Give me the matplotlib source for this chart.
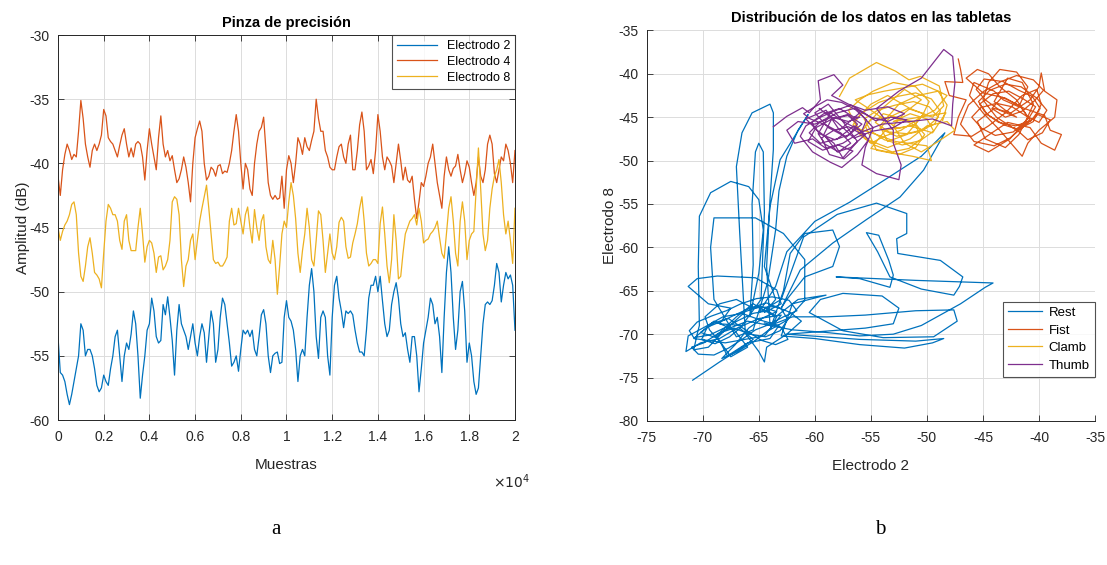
"""Two panels: EMG amplitude per electrode (a) and electrode 2 vs 8 trajectories per gesture (b)."""
import matplotlib
matplotlib.use("Agg")
import matplotlib.pyplot as plt  # noqa: E402
import numpy as np  # noqa: E402

# ---- panel a: amplitude (dB), one value every 100 samples, 0..20000 ----
step = 100
elec4 = [
    -41, -42.5, -40.5, -39.3, -38.5, -39, -39.7, -39.3, -39.5, -37.5,
    -35.1, -36.5, -38.5, -39.5, -40.3, -39, -38.5, -39, -38.5, -37.8,
    -35.8, -36.3, -38, -38.3, -38.5, -39, -39.5, -38.6, -37.8, -37.3,
    -38.5, -39.5, -38.8, -39.5, -38.5, -38.3, -38.5, -39.5, -41.3, -39,
    -37.3, -38.5, -39.5, -40.5, -38, -36.3, -38.5, -39.5, -39, -39.8,
    -39.4, -40.5, -41.5, -41.2, -40.5, -39.5, -40.3, -41.5, -43, -40,
    -38, -37.3, -36.7, -37.5, -40, -41.3, -41, -40.3, -40.5, -41,
    -40.2, -40.1, -40.8, -40.6, -40.7, -40, -39, -37.5, -36.2, -37.5,
    -40, -42, -40, -40.5, -42, -42.5, -40, -38.5, -37.5, -37.2,
    -36.4, -39, -41.5, -42.5, -42.8, -42.5, -42.8, -42.7, -41, -43.5,
    -40.5, -39.4, -40, -41.5, -40, -38, -38.5, -39.3, -38, -38.7,
    -39, -38.2, -37.5, -35, -36.5, -37.5, -37.5, -39, -39.5, -40.3,
    -40.5, -40.5, -39.5, -38.7, -38.5, -39.5, -40, -38.5, -37.8, -40.5,
    -40.5, -39, -37, -36, -37.5, -40.5, -40.2, -39.7, -40.8, -39,
    -36.2, -37.5, -39.5, -40.5, -39.5, -39.8, -40.2, -41.5, -40, -38.5,
    -39.8, -41.3, -40.3, -41.3, -41.5, -41, -42.8, -44.3, -43, -41.5,
    -41.8, -41, -40, -39.5, -38.5, -40, -41.5, -42.5, -43.5, -41,
    -39.5, -40.5, -41, -40.4, -40.2, -39.3, -40.5, -41.5, -40.8, -39.8,
    -40.3, -41.5, -42.5, -41.5, -39.5, -41, -41.5, -40.5, -38.5, -37.8,
    -38.5, -40.8, -41.5, -40.5, -39.5, -39.8, -38.5, -39, -40, -41.5,
    -39,
]
elec8 = [
    -45, -46, -45.3, -44.8, -44.5, -44, -43.2, -43, -44, -47,
    -48.8, -49.2, -48, -46.5, -45.8, -47, -48.5, -48.7, -49, -49.7,
    -47, -44.5, -43.2, -43.5, -44, -44, -44.5, -46, -46.7, -44.5,
    -44, -46, -46.8, -46.8, -46.8, -45, -43.5, -45.5, -47.7, -46.5,
    -46, -46.2, -47, -48.5, -47.3, -47.2, -48.3, -48, -47.5, -46,
    -43, -42.6, -42.8, -44, -47.5, -49.6, -48, -47.5, -46, -45.5,
    -47.5, -46, -44.5, -43.5, -42.6, -41.7, -43.5, -45.5, -47.5, -47.8,
    -47.7, -48, -48, -47.7, -47.3, -44.5, -43.5, -44.8, -44.7, -43.5,
    -44.5, -45.5, -44, -43.4, -45, -46.2, -43.6, -45, -46, -44.5,
    -44, -46.5, -47.5, -47.8, -46, -47.5, -50.2, -48, -45.5, -44.5,
    -45, -43, -41.5, -42.5, -44.3, -47, -48.5, -46.8, -45.5, -43.5,
    -45, -47.5, -48, -46, -43.7, -44, -46, -48.5, -47, -45.5,
    -47, -47.5, -46.5, -44.6, -44.2, -44.5, -46.5, -47.4, -47.3, -46.2,
    -45.5, -44.7, -43.5, -42.6, -44.5, -47, -48, -47.8, -47.5, -47.5,
    -47.8, -44.7, -43.4, -45.5, -48, -49.3, -47.5, -44, -46, -49,
    -48.8, -47, -45.5, -45, -44.5, -44.3, -44, -44.8, -43.5, -44.5,
    -46.2, -46, -45.9, -45.5, -45.3, -45, -44.5, -45.8, -47, -47.4,
    -45.5, -43.5, -42.6, -44.5, -47, -48, -44.5, -43, -44.5, -47.5,
    -46, -45.5, -45.3, -42, -38.8, -42, -45.5, -46.8, -46, -43.5,
    -42, -41, -40.5, -39.7, -41.5, -44, -45.5, -44.5, -46, -47.8,
    -43.5,
]
elec2 = [
    -53.5, -56.3, -56.5, -57, -58, -58.8, -58, -57, -56, -55,
    -52.5, -53, -55, -54.5, -54.5, -55, -56, -57.3, -57.8, -57.5,
    -56.5, -57, -57.3, -56, -55, -53.5, -53, -55, -57, -55,
    -54, -54.5, -53.3, -51.5, -52.5, -55, -58.3, -56.5, -55, -53,
    -52.5, -50.5, -51.5, -53.5, -54, -53.8, -51, -51.8, -50.4, -52,
    -53.8, -56.5, -53, -51, -52.5, -53, -53.5, -54.5, -53.5, -52.5,
    -54, -55, -53.5, -52.5, -53.2, -55.5, -53.5, -51.5, -52.5, -55.5,
    -54.5, -52, -50.5, -51, -52.5, -54, -55.8, -55.5, -55, -56.2,
    -54.5, -53, -53.3, -53, -53.5, -53, -54.5, -55, -53.5, -51.8,
    -51.4, -52.5, -55, -56.3, -55, -54.8, -54.7, -55.6, -55.5, -52,
    -50.7, -52, -52.3, -53, -54.5, -57, -55, -54.5, -55, -52,
    -49.5, -48.2, -50, -53.5, -55.2, -52, -51.5, -52, -55, -56.5,
    -52, -49.5, -48.8, -50.5, -51.5, -52.8, -51.5, -51.7, -51.5, -51.8,
    -53, -54, -54.7, -54.7, -55, -53, -50.5, -49.5, -49.5, -48.8,
    -50, -48.8, -50.7, -52.5, -53.5, -53, -51, -50, -49.3, -50.5,
    -52.5, -53.5, -53.2, -54.5, -55.5, -53.5, -53.5, -55, -57.8, -56,
    -54, -53, -52, -50.5, -51, -52.5, -52, -53.5, -56.3, -52,
    -48.5, -46.5, -48.5, -52, -54.5, -53, -50, -49.2, -51.5, -55.5,
    -54, -55, -57, -58, -57.5, -55, -52.5, -51, -50.8, -51,
    -50.7, -49.5, -47.8, -48.5, -50.8, -49.5, -48.5, -49, -48.7, -49.5,
    -53,
]

# ---- panel b: electrode 2 (x) vs electrode 8 (y), dB ----
rest_x = [
    -70.9, -68.5, -66.8, -65.5, -66.8, -68.5, -70.2, -71.5, -71.3, -70.0, -68.2, -66.5, -64.8, -63.2,
    -64.0, -66.0, -67.8, -68.4, -69.4, -69.8, -68.5, -67.0, -65.5, -63.5, -62.2, -61.2, -62.5, -64.3,
    -64.5, -65.0,
    -66.2, -66.5, -66.7, -67.0, -66.5, -65.6, -64.0, -63.7, -63.7, -64.0, -64.3, -64.0,
    -66.0, -68.0, -69.5, -70.8, -70.5,
    -70.3, -70.4, -70.3, -69.3, -67.5, -65.9, -65.0, -64.6, -65.0, -65.8,
    -65.5, -65.6, -65.3, -65.0, -64.6, -64.5, -64.8,
    -66.5, -68.5, -67.5,
    -69.5, -71.3, -70.5, -68.7, -65.3, -63.4, -63.0, -64.5,
    -63.5, -64.5, -64.0, -63.1, -60.6,
    -61.5, -62.5, -63.2, -63.5, -64.2, -65.5,
    -67.0, -69.0, -69.3, -69.0, -65.3, -62.8, -60.9, -60.9, -62.5, -64.0,
    -62.8, -62.2, -60.9, -58.4, -57.8, -58.4, -60.9, -62.5,
    -63.0, -61.3, -58.4, -55.4, -52.4, -50.3, -48.4,
    -50.5, -53.5, -56.9, -60.0, -62.5, -63.5, -65.0,
    -63.0, -61.0, -58.0, -54.5, -51.8, -51.8, -52.7, -52.6, -48.8, -46.8, -47.1, -47.6, -50.5, -53.3,
    -54.4, -55.4, -54.3, -53.4, -53.0, -53.3,
    -56.0, -58.1, -51.0, -44.1, -44.8, -47.0, -50.5, -53.0, -56.0, -59.0, -62.0, -64.0,
    -62.0, -58.9, -55.5, -51.0, -47.6, -47.3, -49.4, -53.9, -57.5, -60.5, -59.5, -57.5, -54.0, -52.5,
    -53.0, -55.5,
    -62.5, -56.0, -51.0, -48.5, -49.5, -52.0, -56.0, -60.0, -63.0,
    -62.0, -59.0, -61.5,
    -63.5, -65.5, -67.0, -68.8, -67.5, -66.0, -67.2, -69.0, -70.8, -68.0, -64.5, -63.0, -65.0,
]
rest_y = [
    -75.3, -73.2, -71.8, -70.6, -69.2, -70.5, -71.0, -72.0, -70.2, -69.3, -68.0, -67.6, -68.4, -69.0,
    -70.5, -71.0, -72.5, -71.0, -69.5, -68.0, -66.5, -66.0, -67.0, -66.8, -67.5, -68.5, -70.0, -71.5,
    -73.2, -72.0,
    -69.9, -63.0, -58.4, -50.7, -46.8, -44.5, -43.5, -44.5, -48.7, -54.5, -62.2, -69.0,
    -68.5, -69.5, -71.5, -71.8, -70.0,
    -69.0, -62.2, -56.4, -53.7, -52.4, -53.0, -54.5, -58.0, -63.0, -68.0,
    -62.0, -55.0, -49.0, -48.0, -49.0, -56.0, -66.0,
    -69.0, -68.8, -67.0,
    -66.5, -64.5, -63.6, -63.3, -63.5, -64.9, -66.5, -67.5,
    -66.0, -62.2, -55.3, -49.9, -44.7,
    -46.5, -49.5, -53.5, -58.0, -64.0, -69.5,
    -70.3, -66.0, -60.0, -56.6, -56.6, -58.4, -61.4, -66.1, -68.4, -69.5,
    -65.0, -60.7, -58.4, -58.0, -59.9, -62.2, -63.4, -66.0,
    -67.0, -62.6, -59.5, -56.8, -54.2, -51.1, -46.8,
    -49.5, -52.0, -54.8, -57.0, -60.5, -64.5, -67.5,
    -66.0, -58.8, -56.2, -54.9, -56.1, -58.4, -59.0, -60.7, -61.5, -63.4, -64.5, -65.5, -64.8, -63.4,
    -60.5, -58.3, -58.6, -61.5, -63.2, -64.6,
    -63.6, -63.4, -63.8, -64.1, -64.6, -66.5, -69.0, -70.0, -70.2, -69.8, -69.5, -69.0,
    -68.0, -68.0, -67.8, -67.3, -67.2, -68.5, -70.3, -70.4, -69.6, -67.5, -66.0, -65.3, -65.6, -67.0,
    -68.8, -69.3,
    -70.0, -70.6, -70.8, -70.5, -71.0, -71.6, -71.2, -70.5, -70.2,
    -66.5, -65.5, -66.0,
    -68.0, -66.5, -68.0, -70.2, -72.6, -71.5, -69.5, -68.5, -70.5, -71.0, -70.2, -67.8, -68.2,
]
# extra passes through the dense resting core, (x, y)
rest_core = [
    (-65.0, -68.2), (-66.4, -69.0), (-67.6, -70.3), (-68.9, -71.1), (-70.1, -70.6), (-69.6, -69.2),
    (-68.3, -68.5), (-67.0, -67.7), (-65.6, -66.9), (-64.3, -66.4), (-63.0, -67.1), (-62.4, -68.3),
    (-63.1, -69.6), (-64.4, -70.3), (-65.8, -70.0), (-67.2, -69.3), (-68.6, -69.9), (-69.9, -71.0),
    (-71.0, -71.5), (-70.4, -72.3), (-69.0, -72.4), (-67.7, -71.6), (-66.5, -70.6), (-65.3, -69.5),
    (-64.1, -68.9), (-62.8, -68.0), (-61.6, -67.3), (-62.3, -66.1), (-63.8, -65.7), (-65.2, -65.9),
    (-66.6, -66.5), (-67.9, -67.3), (-69.2, -67.9), (-70.5, -68.6), (-71.2, -69.6), (-70.8, -70.4),
    (-69.4, -70.1), (-68.1, -69.3), (-66.8, -68.4), (-65.5, -67.6), (-64.2, -67.3), (-63.4, -68.0),
    (-64.0, -69.4), (-65.4, -70.8), (-66.9, -72.0), (-68.3, -72.8), (-67.1, -71.2), (-65.9, -69.3),
    (-64.6, -68.1), (-63.4, -67.4), (-64.9, -66.8), (-66.2, -67.4), (-67.4, -68.8), (-68.8, -70.4),
    (-70.2, -69.8), (-69.0, -68.7), (-67.7, -68.2), (-66.2, -69.5), (-64.8, -70.7), (-63.5, -71.2),
    (-62.4, -70.6), (-63.0, -69.2), (-64.5, -68.7),
]
fist_x = [
    -47.2, -47.0, -46.8, -48.4, -48.0, -46.5, -47.2, -47.6, -46.0, -44.5, -43.0, -41.5, -40.2, -39.8,
    -40.5, -42.0, -43.8, -45.0, -44.5, -43.5, -42.0, -41.0, -41.8, -43.2, -44.0, -45.8, -46.2, -45.0,
    -43.5, -42.5, -41.5, -41.0, -40.0, -38.6, -38.4, -39.5, -39.8, -40.0, -40.8, -42.5, -44.0, -45.5,
    -44.8, -43.0, -41.8, -41.0, -42.0, -43.5, -44.5, -45.5, -46.5, -45.0, -43.0, -41.3, -39.5, -39.0,
    -38.0, -38.6, -39.8, -40.8, -42.8, -44.2, -45.8, -44.5, -42.6, -41.2, -40.5, -41.5, -42.8, -44.0,
    -43.0, -42.0,
]
fist_y = [
    -38.3, -39.5, -41.0, -40.9, -42.5, -43.0, -45.0, -47.0, -47.2, -46.0, -44.5, -42.5, -41.8, -43.5,
    -45.5, -46.5, -45.0, -43.0, -41.0, -39.5, -39.8, -41.5, -43.8, -43.0, -42.0, -41.0, -42.5, -44.5,
    -46.5, -48.0, -49.5, -48.0, -46.5, -45.0, -43.0, -42.0, -39.9, -41.5, -43.0, -44.5, -44.0, -45.5,
    -47.5, -48.5, -47.0, -45.0, -43.0, -41.5, -40.0, -39.5, -40.5, -42.2, -42.8, -44.0, -44.8, -46.5,
    -47.0, -48.8, -48.0, -46.2, -45.6, -46.8, -48.2, -49.0, -47.5, -45.5, -43.5, -41.0, -40.5, -43.2,
    -44.2, -45.0,
]
fist_core = [
    (-42.0, -45.0), (-43.5, -44.2), (-44.8, -43.0), (-45.6, -41.8), (-44.9, -40.6), (-43.2, -40.9),
    (-41.8, -41.9), (-40.6, -42.6), (-39.9, -44.0), (-40.7, -45.4), (-42.1, -46.0), (-43.6, -45.6),
    (-44.7, -44.6), (-45.3, -43.5), (-44.1, -42.3), (-42.7, -42.0), (-41.4, -42.9), (-40.3, -43.8),
    (-40.9, -45.1), (-42.3, -46.7), (-43.9, -47.1), (-45.1, -46.3), (-46.0, -45.0), (-45.2, -43.9),
    (-43.8, -43.4), (-42.4, -43.8), (-41.1, -44.9), (-40.0, -45.6), (-39.3, -44.2), (-40.2, -42.8),
    (-41.6, -41.5), (-43.0, -41.2), (-44.4, -41.9), (-45.4, -43.2), (-44.6, -44.7), (-43.1, -45.9),
    (-41.9, -46.4), (-40.8, -45.3), (-41.7, -43.7), (-43.3, -42.7), (-44.2, -44.0), (-43.0, -45.0),
    (-41.5, -44.3), (-40.4, -43.1), (-39.6, -41.9), (-40.5, -40.7), (-42.0, -40.2), (-43.4, -40.9),
    (-44.9, -42.0), (-46.3, -43.6), (-47.0, -45.8), (-45.8, -47.8), (-44.0, -48.3), (-42.6, -47.4),
    (-41.3, -46.0), (-40.1, -44.7), (-39.0, -45.3), (-39.7, -46.8), (-41.0, -47.6), (-42.2, -46.2),
]
clamb_x = [
    -57.8, -56.9, -54.5, -52.8, -51.6, -50.6, -48.9, -48.5, -49.5, -51.5, -53.5, -55.0, -56.5, -55.5,
    -53.5, -51.5, -50.0, -48.2, -47.5, -49.0, -50.5, -52.0, -53.0, -52.0, -50.5, -52.0, -54.0, -55.5,
    -54.5, -52.5, -51.0, -50.2, -51.2, -53.2, -55.0, -56.0, -55.0, -53.8, -52.3, -50.8, -49.3, -48.2,
    -49.0, -50.8, -52.5, -54.2, -53.5, -51.8, -50.4, -49.8, -51.0, -53.0, -54.8, -56.0, -57.0, -56.2,
    -54.5, -52.8, -50.0, -49.6, -51.3, -53.5, -55.0, -53.7, -51.5, -49.5, -48.3,
]
clamb_y = [
    -42.6, -40.5, -38.7, -39.7, -40.7, -40.3, -41.4, -43.7, -45.0, -44.0, -42.5, -43.5, -45.5, -47.5,
    -48.5, -47.5, -46.0, -45.5, -46.5, -47.8, -49.0, -48.0, -46.0, -44.5, -43.0, -41.8, -44.0, -46.0,
    -48.8, -49.3, -48.5, -47.0, -45.5, -45.0, -45.2, -47.0, -48.0, -47.2, -46.5, -45.2, -44.2, -42.5,
    -42.0, -42.5, -43.5, -46.0, -47.8, -47.0, -44.8, -43.2, -41.5, -41.0, -42.0, -43.0, -44.2, -46.3,
    -47.0, -47.8, -48.3, -50.0, -49.5, -49.0, -48.6, -46.5, -46.0, -46.8, -44.5,
]
clamb_core = [
    (-53.0, -45.5), (-51.5, -44.6), (-50.0, -45.2), (-49.4, -46.6), (-50.6, -47.7), (-52.2, -48.2),
    (-53.8, -47.6), (-55.0, -46.6), (-55.6, -45.2), (-54.4, -44.2), (-52.8, -43.6), (-51.2, -43.2),
    (-49.8, -43.8), (-49.0, -45.0), (-50.2, -46.4), (-51.8, -46.9), (-53.4, -46.7), (-54.6, -45.6),
    (-53.9, -44.6), (-52.4, -45.1), (-51.0, -46.0), (-50.4, -47.4), (-51.6, -48.6), (-53.1, -49.0),
    (-54.7, -48.2), (-55.8, -47.1), (-56.6, -45.9), (-55.9, -44.6), (-54.3, -43.3), (-52.6, -42.6),
    (-51.0, -42.2), (-49.6, -42.9), (-48.8, -44.3), (-49.3, -45.8), (-50.9, -46.7), (-52.7, -47.2),
    (-54.2, -46.3), (-53.2, -44.9), (-51.7, -44.0), (-50.3, -44.6), (-51.1, -45.9), (-52.6, -46.3),
    (-54.0, -45.1), (-55.2, -44.0), (-56.4, -43.0), (-55.2, -42.4), (-53.8, -42.0), (-52.0, -41.6),
    (-50.4, -41.2), (-49.0, -42.0), (-48.2, -43.6), (-48.6, -45.4),
]
thumb_x = [
    -63.7, -62.5, -61.1, -60.5, -59.5, -59.7, -58.3, -57.5, -58.5, -57.0, -55.5, -53.5, -52.0, -53.5,
    -55.0, -56.5, -58.0, -59.5, -60.5, -59.5, -58.0, -56.5, -55.5, -56.8, -58.0, -59.2, -58.5, -57.0,
    -55.8, -57.2, -58.8, -60.0, -58.8, -57.5, -56.2, -57.5, -58.3, -59.8, -60.8, -59.0, -57.8, -56.0,
    -54.8, -55.5, -55.8, -54.5, -52.5, -52.3, -53.0, -53.0, -54.5, -52.5, -50.5, -48.5, -47.7, -47.5,
    -47.7, -47.8, -49.5, -51.5, -54.0, -56.0, -57.5, -59.0, -60.2, -61.8, -62.5, -61.5, -60.0, -58.5,
    -57.0, -56.0,
]
thumb_y = [
    -46.1, -44.9, -43.9, -44.5, -43.0, -40.8, -40.1, -41.3, -42.5, -43.5, -44.2, -43.8, -44.6, -45.5,
    -45.0, -44.0, -44.5, -45.5, -46.8, -48.0, -47.5, -46.0, -47.0, -48.5, -49.0, -47.0, -45.2, -44.8,
    -45.8, -47.3, -46.2, -44.5, -43.5, -45.5, -47.8, -49.7, -48.0, -46.5, -45.2, -44.2, -46.5, -44.5,
    -46.2, -48.5, -50.5, -51.5, -52.2, -50.5, -48.0, -46.5, -44.0, -42.0, -40.5, -37.2, -38.0, -41.0,
    -43.5, -46.0, -45.2, -45.5, -45.8, -46.8, -48.0, -48.6, -47.5, -48.0, -46.5, -45.5, -45.8, -45.0,
    -45.5, -45.0,
]
thumb_core = [
    (-56.5, -45.0), (-57.8, -44.0), (-59.2, -44.6), (-60.3, -45.6), (-59.6, -46.9), (-58.2, -47.6),
    (-56.9, -47.0), (-56.2, -45.8), (-57.1, -44.7), (-58.6, -45.3), (-59.9, -46.2), (-60.6, -47.8),
    (-59.3, -48.8), (-57.9, -48.2), (-56.6, -48.9), (-57.4, -49.8), (-58.7, -49.3), (-59.4, -47.4),
    (-58.3, -46.5), (-57.0, -46.1), (-55.9, -46.9), (-55.4, -45.3), (-56.4, -44.1), (-57.6, -43.3),
    (-58.9, -43.0), (-60.0, -43.8), (-61.0, -44.6), (-60.4, -45.2), (-59.0, -45.9), (-57.7, -46.8),
    (-56.8, -48.0), (-57.9, -49.0), (-59.1, -48.1), (-59.7, -46.9), (-58.6, -44.5), (-57.3, -45.6),
    (-56.0, -46.5), (-55.2, -47.6), (-56.2, -49.3), (-57.6, -50.8), (-58.6, -50.2), (-60.2, -49.0),
    (-61.3, -47.2), (-60.8, -46.0), (-59.5, -45.0), (-58.1, -44.2), (-56.8, -43.6), (-55.7, -44.4),
    (-54.6, -45.4), (-53.2, -45.0), (-51.8, -45.3), (-53.0, -46.2), (-54.8, -46.6), (-56.5, -47.4),
    (-58.0, -45.6), (-59.6, -44.0),
]

BLUE, ORANGE, YELLOW, PURPLE = "#0072BD", "#D95319", "#EDB120", "#7E2F8E"
INK = "#262626"

plt.rcParams["font.family"] = ["Liberation Sans", "DejaVu Sans"]
plt.rcParams["axes.unicode_minus"] = False  # MATLAB prints a plain hyphen


def _path(xs, ys, extra):
    ex, ey = zip(*extra)
    return list(xs) + list(ex), list(ys) + list(ey)


def _matlab_axes(ax, box=True):
    ax.grid(True, color="#dcdcdc", lw=0.7)
    ax.set_axisbelow(True)
    ax.tick_params(direction="in", length=4, width=0.6, colors=INK, labelsize=10,
                   top=box, right=box)
    ax.tick_params(axis="x", pad=7)
    ax.tick_params(axis="y", pad=6)
    for side, sp in ax.spines.items():
        sp.set_color(INK)
        sp.set_linewidth(0.7)
        if not box and side in ("top", "right"):
            sp.set_visible(False)


fig = plt.figure(figsize=(11.07, 5.65), dpi=100)
ax1 = fig.add_axes([0.0524, 0.2566, 0.4128, 0.6814])
ax2 = fig.add_axes([0.5842, 0.2549, 0.4050, 0.6913])

# panel a
samples = np.arange(len(elec2)) * step
ax1.plot(samples, elec2, color=BLUE, lw=0.9, label="Electrodo 2")
ax1.plot(samples, elec4, color=ORANGE, lw=0.9, label="Electrodo 4")
ax1.plot(samples, elec8, color=YELLOW, lw=0.9, label="Electrodo 8")
ax1.set_xlim(0, 20000)
ax1.set_ylim(-60, -30)
ax1.set_xticks(np.arange(0, 20001, 2000))
ax1.set_xticklabels(["0", "0.2", "0.4", "0.6", "0.8", "1", "1.2", "1.4", "1.6", "1.8", "2"])
ax1.set_yticks(np.arange(-60, -29, 5))
_matlab_axes(ax1, box=True)
ax1.set_xlabel("Muestras", fontsize=11, color=INK, labelpad=10)
ax1.set_ylabel("Amplitud (dB)", fontsize=11, color=INK, labelpad=0)
ax1.set_title("Pinza de precisión", fontsize=10.5, fontweight="bold", pad=6)
ax1.text(1.033, -0.161, r"$\times10^{4}$", transform=ax1.transAxes, ha="right",
         va="center", fontsize=10, color=INK)
leg1 = ax1.legend(loc="upper right", fontsize=9, borderaxespad=0, fancybox=False,
                  handlelength=3.2, labelspacing=0.3, borderpad=0.4)
leg1.get_frame().set_edgecolor(INK)
leg1.get_frame().set_linewidth(0.8)

# panel b
rx, ry = _path(rest_x, rest_y, rest_core)
fx, fy = _path(fist_x, fist_y, fist_core)
cx, cy = _path(clamb_x, clamb_y, clamb_core)
tx, ty = _path(thumb_x, thumb_y, thumb_core)
ax2.plot(rx, ry, color=BLUE, lw=0.9, label="Rest")
ax2.plot(fx, fy, color=ORANGE, lw=0.9, label="Fist")
ax2.plot(cx, cy, color=YELLOW, lw=0.9, label="Clamb")
ax2.plot(tx, ty, color=PURPLE, lw=0.9, label="Thumb")
ax2.set_xlim(-75, -35)
ax2.set_ylim(-80, -35)
ax2.set_xticks(np.arange(-75, -34, 5))
ax2.set_yticks(np.arange(-80, -34, 5))
_matlab_axes(ax2, box=False)
ax2.set_xlabel("Electrodo 2", fontsize=11, color=INK, labelpad=10)
ax2.set_ylabel("Electrodo 8", fontsize=11, color=INK, labelpad=1)
ax2.set_title("Distribución de los datos en las tabletas", fontsize=10.5,
              fontweight="bold", pad=6)
leg2 = ax2.legend(loc="lower right", bbox_to_anchor=(1.0, 0.113), fontsize=9.5,
                  borderaxespad=0, fancybox=False, handlelength=2.6,
                  handletextpad=0.5, labelspacing=0.4, borderpad=0.4)
leg2.get_frame().set_edgecolor(INK)
leg2.get_frame().set_linewidth(0.8)

fig.text(0.249, 0.062, "a", family="Liberation Serif", fontsize=15, ha="center", va="center")
fig.text(0.795, 0.062, "b", family="Liberation Serif", fontsize=15, ha="center", va="center")

fig.savefig("out.png", dpi=100)
plt.close(fig)
